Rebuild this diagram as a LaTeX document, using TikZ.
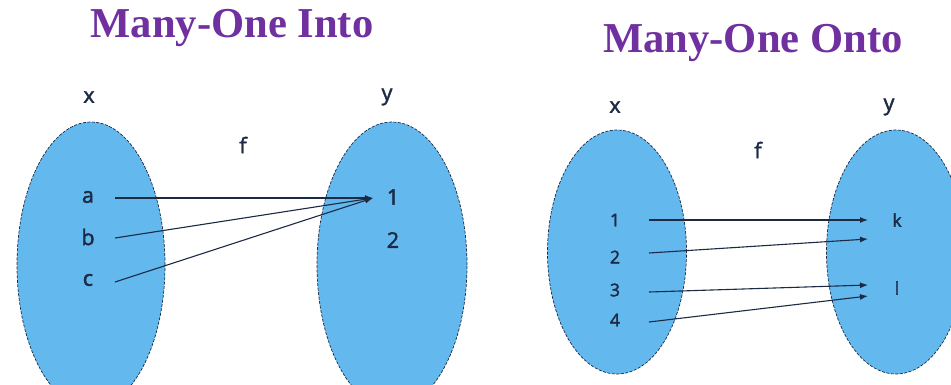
\documentclass[tikz,border=0pt]{standalone}
\usepackage{fontspec}
\setmainfont{Liberation Serif}
\newfontfamily\labelfont{Open Sans}[FakeBold=2]
\usetikzlibrary{shapes.geometric,arrows.meta}
\definecolor{titlepurple}{HTML}{7030A0}
\definecolor{setblue}{HTML}{63B8EE}
\definecolor{ink}{HTML}{1C2A44}
\tikzset{
  settitle/.style={font=\fontsize{42.6}{46}\selectfont\bfseries, text=titlepurple, inner sep=0pt},
  setbox/.style={ellipse, fill=setblue, draw=ink, line width=0.7pt, dash pattern=on 3pt off 1.5pt, inner sep=0pt},
  elem/.style={font=\labelfont\fontsize{21.5}{23}\selectfont, text=ink, inner sep=0pt},
  elemsmall/.style={font=\labelfont\fontsize{17.5}{19}\selectfont, text=ink, inner sep=0pt},
  maparrow/.style={draw=ink, line width=1.1pt, -{Latex[length=8pt,width=6pt]}}
}
\begin{document}
\begin{tikzpicture}[x=1pt,y=-1pt]
\useasboundingbox (0,0) rectangle (951,384);
% ---------- left: Many-One Into ----------
\node[settitle] (t1) at (232,28) {Many-One Into};
\node[setbox, minimum width=148, minimum height=286] (X1) at (91,265) {};
\node[setbox, minimum width=150, minimum height=286] (Y1) at (392,265) {};
\node[elem] (lx1) at (89,97) {x};
\node[elem] (ly1) at (387,97) {y};
\node[elem] (lf1) at (243,145) {f};
\node[elem] (a) at (88,197) {a};
\node[elem] (b) at (88,237) {b};
\node[elem] (c) at (88,280) {c};
\node[elem] (one) at (393,197) {1};
\node[elem] (two) at (393,240) {2};
\coordinate (a0) at (115,198);
\coordinate (b0) at (115,238);
\coordinate (c0) at (115,282);
\coordinate (one0) at (373,198);
\draw[maparrow] (a0) -- (one0);
\draw[maparrow] (b0) -- (one0);
\draw[maparrow] (c0) -- (one0);
% ---------- right: Many-One Onto ----------
\node[settitle] (t2) at (753,43) {Many-One Onto};
\node[setbox, minimum width=139, minimum height=244] (X2) at (617,252) {};
\node[setbox, minimum width=139, minimum height=244] (Y2) at (896,252) {};
\node[elem] (lx2) at (615,107) {x};
\node[elem] (ly2) at (889,107) {y};
\node[elem] (lf2) at (758,150) {f};
\node[elemsmall] (p1) at (615,220) {1};
\node[elemsmall] (p2) at (615,257) {2};
\node[elemsmall] (p3) at (615,290) {3};
\node[elemsmall] (p4) at (615,320) {4};
\node[elemsmall] (k) at (897,220) {k};
\node[elemsmall] (l) at (897,288) {l};
\coordinate (s1) at (649,220);
\coordinate (s2) at (649,253);
\coordinate (s3) at (649,292);
\coordinate (s4) at (649,322);
\coordinate (e1) at (868,220);
\coordinate (e2) at (868,239);
\coordinate (e3) at (868,285);
\coordinate (e4) at (868,296);
\draw[maparrow] (s1) -- (e1);
\draw[maparrow] (s2) -- (e2);
\draw[maparrow] (s3) -- (e3);
\draw[maparrow] (s4) -- (e4);
\end{tikzpicture}
\end{document}
